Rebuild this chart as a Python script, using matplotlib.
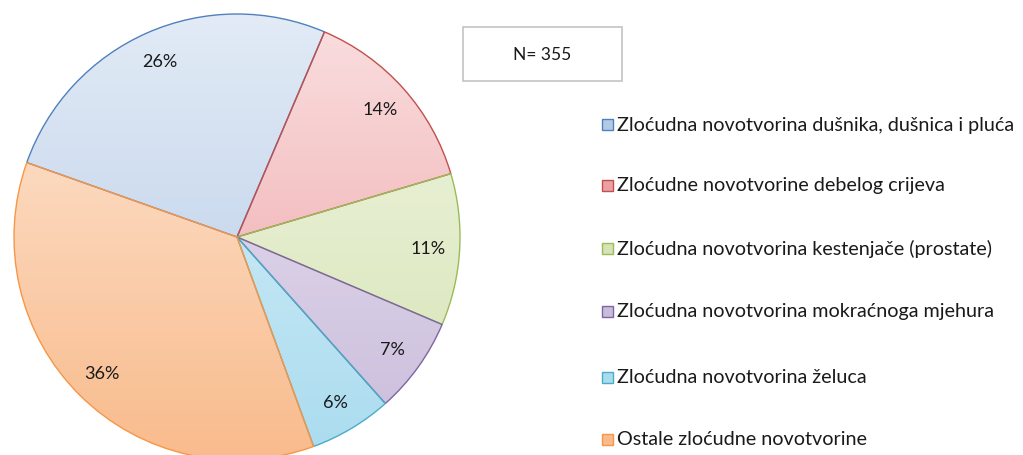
import numpy as np
import matplotlib.pyplot as plt
from matplotlib.colors import LinearSegmentedColormap
from matplotlib.patches import Rectangle

labels = [
    "Zloćudna novotvorina dušnika, dušnica i pluća",
    "Zloćudne novotvorine debelog crijeva",
    "Zloćudna novotvorina kestenjače (prostate)",
    "Zloćudna novotvorina mokraćnoga mjehura",
    "Zloćudna novotvorina želuca",
    "Ostale zloćudne novotvorine",
]
shares = [26, 14, 11, 7, 6, 36]
n_total = 355

edge_cols = ["#4f81bd", "#c0504d", "#9bbb59", "#8064a2", "#4bacc6", "#f79646"]
top_cols = ["#e2ebf6", "#fadfe0", "#f1f6e2", "#ece5f2", "#ddf1f9", "#fde8d8"]
bot_cols = ["#b4c9e6", "#ed9fa2", "#d5e3b5", "#c9bcdb", "#aadcef", "#f9bb8c"]

plt.rcParams["font.family"] = ["Lato", "DejaVu Sans"]

W, H = 1023, 456
fig = plt.figure(figsize=(W / 100, H / 100), dpi=100)
fig.patch.set_facecolor("white")

# pie centre / radius in pixels (from top-left)
cx, cy, r = 237, 238, 223
ax = fig.add_axes([(cx - r) / W, (H - cy - r) / H, 2 * r / W, 2 * r / H])
ax.set_xlim(-1, 1)
ax.set_ylim(-1, 1)
ax.set_aspect("equal")
ax.axis("off")

wedges, texts, autotexts = ax.pie(
    shares, startangle=160.5, counterclock=False, radius=1,
    autopct="%d%%", pctdistance=0.86,
    wedgeprops=dict(linewidth=1.0),
    textprops=dict(fontsize=13, color="#1a1a1a"),
)
grad = np.linspace(0, 1, 256).reshape(-1, 1)
for w, ec, c0, c1 in zip(wedges, edge_cols, top_cols, bot_cols):
    w.set_facecolor("none")
    w.set_edgecolor(ec)
    w.set_zorder(3)
    cmap = LinearSegmentedColormap.from_list("g", [c0, c1])
    im = ax.imshow(grad, cmap=cmap, extent=(-1, 1, -1, 1), origin="upper",
                   aspect="auto", zorder=2)
    im.set_clip_path(w)
for t in autotexts:
    t.set_zorder(4)
ax.set_xlim(-1, 1)
ax.set_ylim(-1, 1)

# N box
bx0, by0, bx1, by1 = 463, 28, 622, 82
fig.patches.append(Rectangle((bx0 / W, 1 - by1 / H), (bx1 - bx0) / W, (by1 - by0) / H,
                             transform=fig.transFigure, facecolor="white",
                             edgecolor="#c4c4c4", linewidth=1.2))
fig.text((bx0 + bx1) / 2 / W, 1 - 55 / H, f"N= {n_total}", ha="center", va="center",
         fontsize=12.5, color="#1a1a1a")

# legend
row_y = [125, 186, 249, 312, 378, 440]
for lab, ec, c0, c1, y in zip(labels, edge_cols, top_cols, bot_cols, row_y):
    s = 11
    fig.patches.append(Rectangle((602 / W, 1 - (y + s / 2) / H), s / W, s / H,
                                 transform=fig.transFigure, facecolor=c1,
                                 edgecolor=ec, linewidth=1))
    fig.text(617 / W, 1 - y / H, lab, ha="left", va="center", fontsize=14.2,
             color="#1a1a1a")

fig.savefig("out.png", dpi=100)
